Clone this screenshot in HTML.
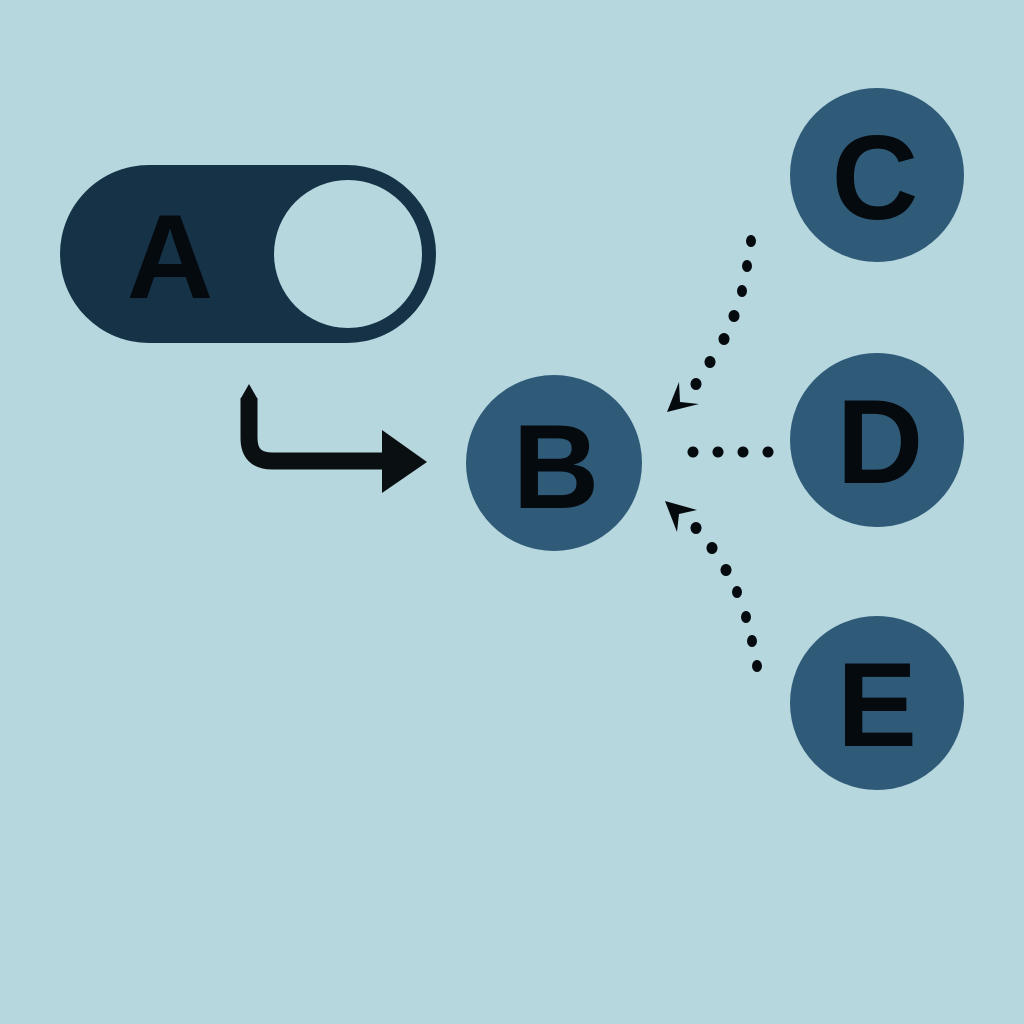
<!DOCTYPE html>
<html><head><meta charset="utf-8"><style>
html,body{margin:0;padding:0;background:#b7d7df;}
svg{display:block}
text{font-family:"Liberation Sans",Arial,sans-serif;font-weight:bold;font-size:120px;fill:#050a0e;text-anchor:middle}
</style></head><body>
<svg width="1024" height="1024" viewBox="0 0 1024 1024">
<rect width="1024" height="1024" fill="#b7d7df"/>
<rect x="60" y="165" width="376" height="178" rx="89" fill="#163247"/>
<circle cx="348" cy="254" r="74" fill="#b7d7df"/>
<text x="170" y="298">A</text>
<path d="M249 398 V438 Q249 461 272 461 H386" fill="none" stroke="#0a0f12" stroke-width="17"/>
<polygon points="241,398 249,384 257,398" fill="#0a0f12"/>
<polygon points="382,430 382,493 427,462" fill="#0a0f12"/>
<g fill="#2f5a78">
<circle cx="554" cy="463" r="88"/>
<circle cx="877" cy="175" r="87"/>
<circle cx="877" cy="440" r="87"/>
<circle cx="877" cy="703" r="87"/>
</g>
<text x="556" y="508">B</text>
<text x="875" y="219">C</text>
<text x="880" y="483">D</text>
<text x="877" y="746">E</text>
<g fill="#050a0e">
<ellipse cx="751" cy="241" rx="5" ry="6"/>
<ellipse cx="747" cy="266" rx="5" ry="6"/>
<ellipse cx="742" cy="291" rx="5" ry="6"/>
<ellipse cx="734" cy="316" rx="5.5" ry="6"/>
<ellipse cx="724" cy="339" rx="5.5" ry="6"/>
<ellipse cx="710" cy="362" rx="5.5" ry="6"/>
<ellipse cx="696" cy="384" rx="5.5" ry="6"/>
<polygon points="667,412 679,382 680,402 699,404"/>
<circle cx="693" cy="452" r="5.5"/>
<circle cx="718" cy="452" r="5.5"/>
<circle cx="743" cy="452" r="5.5"/>
<circle cx="768" cy="452" r="5.5"/>
<polygon points="665,501 697,510 679,514 677,532"/>
<ellipse cx="696" cy="528" rx="5.5" ry="6"/>
<ellipse cx="712" cy="548" rx="5.5" ry="6"/>
<ellipse cx="726" cy="570" rx="5.5" ry="6"/>
<ellipse cx="737" cy="592" rx="5" ry="6"/>
<ellipse cx="746" cy="617" rx="5" ry="6"/>
<ellipse cx="752" cy="641" rx="5" ry="6"/>
<ellipse cx="757" cy="666" rx="5" ry="6"/>
</g>
</svg>
</body></html>
